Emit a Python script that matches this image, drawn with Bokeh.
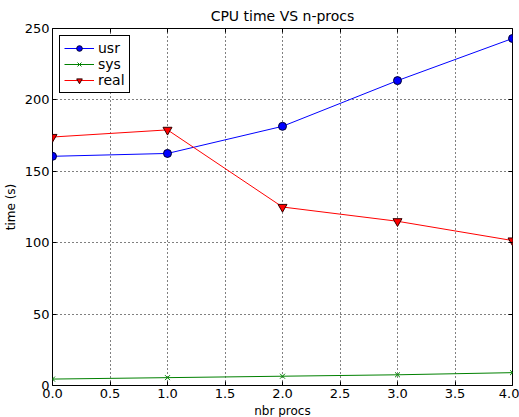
from bokeh.plotting import figure
from bokeh.models import (Range1d, FixedTicker, LinearAxis, Legend, LegendItem,
                          NumeralTickFormatter, CustomJSTickFormatter)
from bokeh.embed import file_html
from bokeh.resources import INLINE

nprocs = [0, 1, 2, 3, 4]
usr = [160.5, 162.5, 181.5, 213.5, 243.0]
sys_t = [4.5, 5.5, 6.5, 7.5, 9.0]
real = [174.0, 179.0, 125.0, 115.0, 101.5]

x_ticks = [0, 0.5, 1, 1.5, 2, 2.5, 3, 3.5, 4]
y_ticks = [0, 50, 100, 150, 200, 250]

FONT = "DejaVu Sans"

p = figure(frame_width=460, frame_height=357, output_backend="svg", toolbar_location=None,
           x_range=Range1d(0, 4), y_range=Range1d(0, 250),
           title="CPU time VS n-procs",
           min_border_left=44, min_border_right=7, min_border_bottom=31, min_border_top=0)

p.title.text_font = FONT
p.title.text_font_size = "14px"
p.title.text_font_style = "normal"
p.title.text_color = "black"
p.title.align = "center"
p.title.offset = 0

p.outline_line_color = "black"
p.outline_line_width = 1
p.outline_line_alpha = 1

for ax in (p.xaxis[0], p.yaxis[0]):
    ax.axis_line_color = None
    ax.major_tick_in = 4
    ax.major_tick_out = 0
    ax.major_tick_line_color = "black"
    ax.minor_tick_line_color = None
    ax.major_label_text_font = FONT
    ax.major_label_text_font_size = "13px"
    ax.major_label_text_color = "black"
    ax.axis_label_text_font = FONT
    ax.axis_label_text_font_size = "12px"
    ax.axis_label_text_font_style = "normal"
    ax.axis_label_text_color = "black"
    ax.major_label_standoff = 3

p.xaxis.axis_label_standoff = 3
p.yaxis.axis_label_standoff = 4

p.xaxis.ticker = FixedTicker(ticks=x_ticks)
p.yaxis.ticker = FixedTicker(ticks=y_ticks)
p.xaxis.formatter = NumeralTickFormatter(format="0.0")
p.xaxis.axis_label = "nbr procs"
p.yaxis.axis_label = "time (s)"

# tick marks on the opposite sides (matplotlib style box), no labels
for loc, tks in (("right", y_ticks), ("above", x_ticks)):
    ax2 = LinearAxis(ticker=FixedTicker(ticks=tks), axis_line_color=None,
                     major_tick_in=4, major_tick_out=0, minor_tick_line_color=None,
                     major_tick_line_color="black",
                     formatter=CustomJSTickFormatter(code="return ''"),
                     major_label_standoff=0)
    p.add_layout(ax2, loc)

p.xgrid.ticker = FixedTicker(ticks=x_ticks)
p.ygrid.ticker = FixedTicker(ticks=y_ticks)
for g in (p.xgrid[0], p.ygrid[0]):
    g.grid_line_color = "black"
    g.grid_line_dash = "1 3"
    g.grid_line_width = 1

l1 = p.line(nprocs, usr, line_color="#0000ff", line_width=1)
s1 = p.scatter(nprocs, usr, marker="circle", size=8, fill_color="#0000ff", line_color="#000033")
l2 = p.line(nprocs, sys_t, line_color="#008000", line_width=1)
s2 = p.scatter(nprocs, sys_t, marker="x", size=7, line_color="#008000", line_width=1)
l3 = p.line(nprocs, real, line_color="#ff0000", line_width=1)
s3 = p.scatter(nprocs, real, marker="inverted_triangle", size=9, fill_color="#ff0000", line_color="#330000")

legend = Legend(items=[LegendItem(label="usr", renderers=[l1, s1]),
                       LegendItem(label="sys", renderers=[l2, s2]),
                       LegendItem(label="real", renderers=[l3, s3])],
                location="top_left")
legend.label_text_font = FONT
legend.label_text_font_size = "14px"
legend.label_text_color = "black"
legend.border_line_color = "black"
legend.border_line_width = 1
legend.border_line_alpha = 1
legend.glyph_width = 30
legend.glyph_height = 14
legend.label_height = 14
legend.spacing = 0
legend.padding = 4
legend.margin = 7
legend.label_standoff = 4
legend.background_fill_alpha = 1
p.add_layout(legend)

open("out.html", "w").write(file_html(p, INLINE))
